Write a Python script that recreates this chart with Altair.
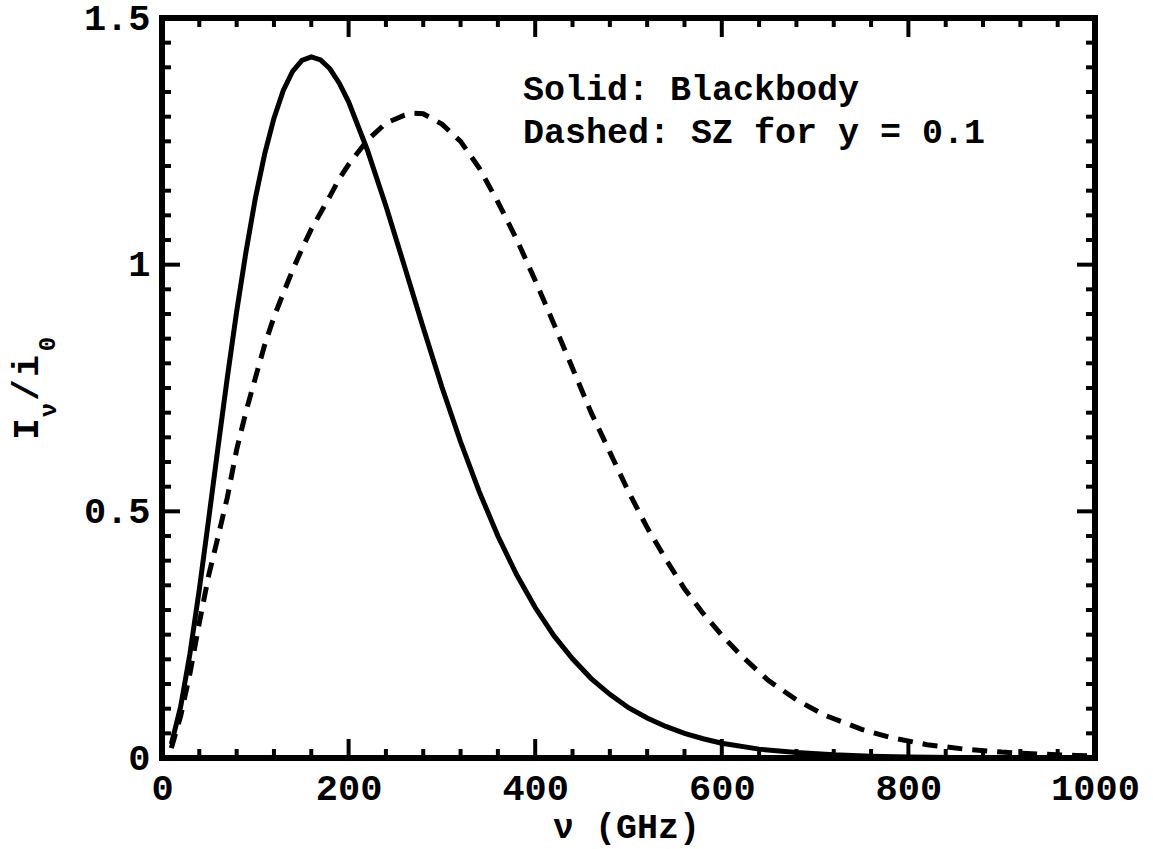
import altair as alt
import pandas as pd

# ---- data ----
nu_bb = [10, 20, 30, 40, 50, 60, 70, 80, 90, 100, 110, 120, 130, 140, 150, 160, 170,
         180, 190, 200, 220, 240, 260, 280, 300, 320, 340, 360, 380, 400, 420, 440,
         460, 480, 500, 520, 540, 560, 580, 600, 640, 680, 720, 760, 800, 850, 900,
         950, 1000]
i_bb = [0.028, 0.104, 0.212, 0.342, 0.484, 0.629, 0.771, 0.905, 1.026, 1.134, 1.224,
        1.297, 1.353, 1.392, 1.414, 1.421, 1.415, 1.397, 1.368, 1.330, 1.233, 1.119,
        0.996, 0.872, 0.752, 0.641, 0.540, 0.450, 0.372, 0.305, 0.248, 0.201, 0.161,
        0.129, 0.102, 0.081, 0.064, 0.050, 0.039, 0.030, 0.018, 0.011, 0.0064, 0.0037,
        0.0021, 0.0011, 0.0005, 0.0003, 0.0001]

nu_sz = [10, 20, 30, 40, 50, 60, 70, 80, 90, 100, 110, 120, 130, 140, 150, 160, 170,
         180, 190, 200, 220, 240, 260, 270, 280, 300, 320, 340, 360, 380, 400, 420,
         440, 460, 480, 500, 520, 540, 560, 580, 600, 620, 650, 680, 710, 750, 780,
         820, 860, 900, 940, 980, 1000]
i_sz = [0.020, 0.085, 0.172, 0.274, 0.370, 0.448, 0.528, 0.625, 0.702, 0.770, 0.837,
        0.894, 0.942, 0.989, 1.032, 1.072, 1.105, 1.139, 1.174, 1.203, 1.252, 1.287,
        1.303, 1.307, 1.306, 1.285, 1.250, 1.196, 1.127, 1.052, 0.968, 0.880, 0.790,
        0.700, 0.620, 0.540, 0.467, 0.403, 0.343, 0.293, 0.249, 0.209, 0.157, 0.118,
        0.087, 0.058, 0.042, 0.027, 0.018, 0.012, 0.008, 0.005, 0.004]

x_major = [0, 200, 400, 600, 800, 1000]
x_minor = [40, 80, 120, 160, 240, 280, 320, 360, 440, 480, 520, 560, 640, 680, 720,
           760, 840, 880, 920, 960]
y_major = [0, 0.5, 1.0, 1.5]
y_minor = [0.05, 0.1, 0.15, 0.2, 0.25, 0.3, 0.35, 0.4, 0.45,
           0.55, 0.6, 0.65, 0.7, 0.75, 0.8, 0.85, 0.9, 0.95,
           1.05, 1.1, 1.15, 1.2, 1.25, 1.3, 1.35, 1.4, 1.45]

annotation_lines = ["Solid: Blackbody", "Dashed: SZ for y = 0.1"]
x_title = "ν (GHz)"

W, H = 933, 740
FONT = "Liberation Mono"

xs = alt.Scale(domain=[0, 1000], nice=False, zero=False)
ys = alt.Scale(domain=[0, 1.5], nice=False, zero=False)

xaxis = alt.Axis(values=x_major, title=None, domain=False, ticks=False, grid=False,
                 labelFont=FONT, labelFontWeight="bold", labelFontSize=37,
                 labelColor="black", labelPadding=12, labelFlush=False,
                 labelOverlap=False, format="d")
yaxis = alt.Axis(values=y_major, title=None, domain=False, ticks=False, grid=False,
                 labelFont=FONT, labelFontWeight="bold", labelFontSize=37,
                 labelColor="black", labelPadding=12, labelFlush=False,
                 labelOverlap=False, format="~g")

bb_df = pd.DataFrame({"nu": nu_bb, "I": i_bb})
sz_df = pd.DataFrame({"nu": nu_sz, "I": i_sz})

bb = alt.Chart(bb_df).mark_line(color="black", strokeWidth=5).encode(
    x=alt.X("nu:Q", scale=xs, axis=xaxis),
    y=alt.Y("I:Q", scale=ys, axis=yaxis),
)
sz = alt.Chart(sz_df).mark_line(color="black", strokeWidth=5, strokeDash=[15, 10]).encode(
    x=alt.X("nu:Q", scale=xs),
    y=alt.Y("I:Q", scale=ys),
)

def tick_mark(orient, L):
    return dict(orient=orient, size=L, thickness=4, color="black", opacity=1)

def xticks(vals, L):
    df = pd.DataFrame({"v": vals})
    bottom = alt.Chart(df).mark_tick(**tick_mark("vertical", L)).encode(
        x=alt.X("v:Q", scale=xs), y=alt.value(H - L / 2))
    top = alt.Chart(df).mark_tick(**tick_mark("vertical", L)).encode(
        x=alt.X("v:Q", scale=xs), y=alt.value(L / 2))
    return [bottom, top]

def yticks(vals, L):
    df = pd.DataFrame({"v": vals})
    left = alt.Chart(df).mark_tick(**tick_mark("horizontal", L)).encode(
        y=alt.Y("v:Q", scale=ys), x=alt.value(L / 2))
    right = alt.Chart(df).mark_tick(**tick_mark("horizontal", L)).encode(
        y=alt.Y("v:Q", scale=ys), x=alt.value(W - L / 2))
    return [left, right]

ticks = xticks(x_major, 19) + xticks(x_minor, 9) + yticks(y_major, 18) + yticks(y_minor, 9)

def ann(s, py):
    return alt.Chart(pd.DataFrame({"t": [s]})).mark_text(
        font=FONT, fontWeight="bold", fontSize=35, align="left", baseline="alphabetic",
        color="black"
    ).encode(text="t:N", x=alt.value(361), y=alt.value(py))

ann1 = ann(annotation_lines[0], 82)
ann2 = ann(annotation_lines[1], 125)

xt = alt.Chart(pd.DataFrame({"t": [x_title]})).mark_text(
    font=FONT, fontWeight="bold", fontSize=35, align="center", baseline="alphabetic", color="black"
).encode(text="t:N", x=alt.value(W / 2 - 2), y=alt.value(820))

# rotated y title: I_nu / i_0
def ytxt(s, px, py, size):
    return alt.Chart(pd.DataFrame({"t": [s]})).mark_text(
        font=FONT, fontWeight="bold", fontSize=size, angle=270, align="center",
        baseline="middle", color="black"
    ).encode(text="t:N", x=alt.value(px), y=alt.value(py))

ytitle = [
    ytxt("I", 27 - 162, 429 - 18, 36),
    ytxt("ν", 49 - 162, 410 - 18, 24),
    ytxt("/", 27 - 162, 390 - 18, 36),
    ytxt("i", 27 - 162, 366 - 18, 36),
    ytxt("0", 48 - 162, 344 - 18, 24),
]

chart = alt.layer(bb, sz, *ticks, ann1, ann2, xt, *ytitle).properties(
    width=W, height=H,
    autosize=alt.AutoSizeParams(type="none"),
    padding={"left": 162, "top": 18, "right": 58, "bottom": 91},
    background="white",
).configure_view(stroke="black", strokeWidth=6)

chart.save("out.html", embed_options={"renderer": "svg", "actions": False})
